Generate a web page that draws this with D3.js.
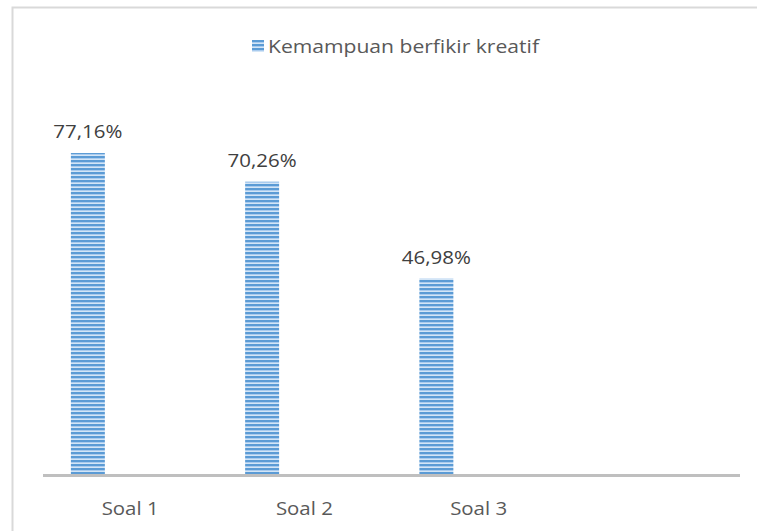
<!DOCTYPE html>
<html>
<head>
<meta charset="utf-8">
<script src="https://cdn.jsdelivr.net/npm/d3@7"></script>
<style>
  body { margin: 0; background: #fff; }
  svg { display: block; font-family: "Open Sans", sans-serif; }
</style>
</head>
<body>
<div class="chart"></div>
<script>
var categories = ["Soal 1", "Soal 2", "Soal 3"];
var values = [77.16, 70.26, 46.98];
var valueLabels = ["77,16%", "70,26%", "46,98%"];
var seriesName = "Kemampuan berfikir kreatif";

function makeChart(){
	var width = 757,
			height = 531;

	var svg = d3.select(".chart").append("svg")
			.attr("width", width)
			.attr("height", height);

	// striped fill like the original
	var pat = svg.append("defs").append("pattern")
			.attr("id", "stripes")
			.attr("patternUnits", "userSpaceOnUse")
			.attr("width", 4)
			.attr("height", 4);
	pat.append("rect").attr("width", 4).attr("height", 4).attr("fill", "#a9cbee");
	pat.append("rect").attr("width", 4).attr("height", 2).attr("fill", "#5b9bd5");
	pat.append("rect").attr("y", 3).attr("width", 4).attr("height", 1).attr("fill", "#d3e5f6");

	// chart frame (runs off the right and bottom edges)
	svg.append("rect")
			.attr("x", 12.5)
			.attr("y", 7.5)
			.attr("width", width + 20)
			.attr("height", height + 20)
			.attr("fill", "none")
			.attr("stroke", "#d9d9d9")
			.attr("stroke-width", 2);

	var baseY = 474;
	var band = 174.25;
	var x = d3.scaleBand()
			.domain(categories)
			.range([43, 43 + band * categories.length])
			.padding(0);

	var y = d3.scaleLinear()
			.domain([0, 100])
			.range([baseY, 58]);

	var barW = band * 0.195;
	var barOff = band * 0.16;

	svg.selectAll(".bar")
			.data(values)
		.enter().append("rect")
			.attr("class", "bar")
			.attr("x", function(d, i){ return x(categories[i]) + barOff })
			.attr("y", function(d){ return y(d) })
			.attr("width", barW)
			.attr("height", function(d){ return baseY - y(d) })
			.attr("fill", "url(#stripes)");

	svg.selectAll(".val")
			.data(values)
		.enter().append("text")
			.attr("class", "val")
			.attr("x", function(d, i){ return x(categories[i]) + barOff + barW / 2 })
			.attr("y", function(d){ return y(d) - 15 })
			.attr("text-anchor", "middle")
			.attr("textLength", 69)
			.attr("lengthAdjust", "spacingAndGlyphs")
			.style("font-size", "18px")
			.style("fill", "#404040")
			.text(function(d, i){ return valueLabels[i] });

	// category axis
	svg.append("line")
			.attr("x1", 43)
			.attr("x2", 740)
			.attr("y1", baseY + 1.5)
			.attr("y2", baseY + 1.5)
			.style("stroke", "#bfbfbf")
			.style("stroke-width", 3);

	var xAxis = d3.axisBottom(x).tickSize(0).tickPadding(0);
	var gx = svg.append("g")
			.attr("transform", "translate(0," + (baseY + 27) + ")")
			.call(xAxis);
	gx.select(".domain").remove();
	gx.selectAll("text")
			.attr("dy", "0.8em")
			.attr("textLength", 57)
			.attr("lengthAdjust", "spacingAndGlyphs")
			.style("font-size", "18px")
			.style("font-family", "'Open Sans', sans-serif")
			.style("fill", "#595959");

	// legend
	var lg = svg.append("g").attr("transform", "translate(252,40)");
	lg.append("rect")
			.attr("width", 12)
			.attr("height", 12)
			.attr("fill", "url(#stripes)");
	lg.append("text")
			.attr("x", 16)
			.attr("y", 13)
			.attr("textLength", 271)
			.attr("lengthAdjust", "spacingAndGlyphs")
			.style("font-size", "18px")
			.style("fill", "#595959")
			.text(seriesName);
}

makeChart();
</script>
</body>
</html>
